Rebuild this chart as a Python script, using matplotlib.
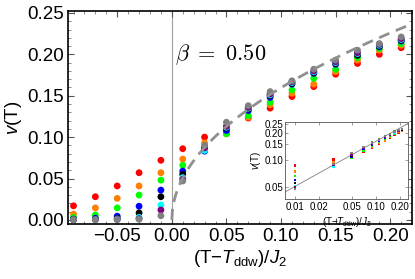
#!/usr/bin/env python3
import matplotlib
matplotlib.use("Agg")
import matplotlib.pyplot as plt
import numpy as np
from matplotlib.ticker import MultipleLocator, FixedLocator, NullLocator, NullFormatter

plt.rcParams["font.family"] = ["Liberation Sans", "DejaVu Sans"]
plt.rcParams["mathtext.fontset"] = "custom"
plt.rcParams["mathtext.rm"] = "Liberation Sans"
plt.rcParams["mathtext.it"] = "Liberation Sans:italic"

# temperatures relative to T_ddw
x_neg = [-0.09, -0.07, -0.05, -0.03, -0.01]
x_pos = [0.01, 0.03, 0.05, 0.07, 0.09, 0.11, 0.13, 0.15, 0.17, 0.19, 0.21]

colors = ["#ff0000", "#ff8000", "#00ff00", "#0000ff", "#000000", "#00ffff", "#800080", "#808080"]

red = [0.017, 0.028, 0.041, 0.057, 0.072,
       0.086, 0.100, 0.105, 0.123, 0.135, 0.149, 0.161, 0.176, 0.189, 0.200, 0.208]
orange = [0.007, 0.0145, 0.026, 0.041, 0.057,
          0.0735, 0.093, 0.104, 0.124, 0.139, 0.153, 0.164, 0.179, 0.193, 0.205, 0.211]
green = [0.003, 0.006, 0.0145, 0.030, 0.048,
         0.066, 0.088, 0.104, 0.126, 0.142, 0.157, 0.171, 0.182, 0.196, 0.207, 0.213]
blue = [0.001, 0.002, 0.0045, 0.0165, 0.036,
        0.059, 0.083, 0.108, 0.132, 0.148, 0.164, 0.177, 0.188, 0.199, 0.209, 0.216]
black = [0.0005, 0.001, 0.002, 0.0085, 0.028,
         0.055, 0.085, 0.111, 0.134, 0.150, 0.165, 0.178, 0.189, 0.199, 0.210, 0.217]
cyan = [0.0003, 0.0005, 0.001, 0.003, 0.018,
        0.051, 0.084, 0.112, 0.135, 0.151, 0.166, 0.179, 0.190, 0.201, 0.211, 0.218]
purple = [0.0002, 0.0003, 0.0005, 0.0015, 0.012,
          0.049, 0.087, 0.113, 0.136, 0.152, 0.167, 0.180, 0.191, 0.202, 0.212, 0.219]
gray = [0.0001, 0.0002, 0.0003, 0.0008, 0.005,
        0.047, 0.090, 0.118, 0.138, 0.155, 0.168, 0.182, 0.193, 0.205, 0.213, 0.221]

series = [red, orange, green, blue, black, cyan, purple, gray]

beta = 0.50
amp = 0.505

x_all = np.array(x_neg + x_pos)
n_neg = len(x_neg)

fig = plt.figure(figsize=(4.15, 2.79), dpi=100)
ax = fig.add_axes([0.164, 0.197, 0.829, 0.764])

ax.axvline(0, color="#a0a0a0", lw=0.8, zorder=1)
for c, vals in zip(colors, series):
    ax.scatter(x_all, vals, s=24, color=c, edgecolors="none", zorder=3)

xf = np.linspace(0, 0.23, 400)
ax.plot(xf, amp * xf ** beta, ls=(0, (4, 2.5)), color="#909090", lw=2, zorder=4)

ax.set_xlim(-0.095, 0.22)
ax.set_ylim(-0.005, 0.2525)
ax.xaxis.set_major_locator(FixedLocator([-0.05, 0.0, 0.05, 0.10, 0.15, 0.20]))
ax.xaxis.set_minor_locator(MultipleLocator(0.01))
ax.yaxis.set_major_locator(FixedLocator([0.0, 0.05, 0.10, 0.15, 0.20, 0.25]))
ax.yaxis.set_minor_locator(MultipleLocator(0.01))
ax.set_xticklabels(["\u22120.05", "0.00", "0.05", "0.10", "0.15", "0.20"])
ax.set_yticklabels(["0.00", "0.05", "0.10", "0.15", "0.20", "0.25"])
ax.tick_params(which="both", direction="in", top=True, right=True, labelsize=13.5, pad=3)
ax.tick_params(which="major", length=4, width=0.8, color="#555555")
ax.tick_params(which="minor", length=2, width=0.6, color="#777777")
for s in ax.spines.values():
    s.set_linewidth(1.2)

ax.set_xlabel(r"(T$-$$T_{\mathrm{ddw}}$)/$J_2$", fontsize=13.5, labelpad=2)
ax.set_ylabel(r"$v$(T)", fontsize=13.5, labelpad=2)

ax.text(0.003, 0.2, r"$\beta\ =\ 0.50$", fontsize=16, math_fontfamily="cm",
        va="center", ha="left", zorder=5)

# log-log inset
ins = fig.add_axes([0.687, 0.285, 0.296, 0.278])
for c, vals in zip(colors, series):
    ins.scatter(x_pos, vals[n_neg:], s=3, marker="s", color=c, edgecolors="none", zorder=3)
xl = np.linspace(0.0075, 0.25, 200)
ins.plot(xl, amp * xl ** beta, color="#909090", lw=0.7, zorder=2)
ins.set_xscale("log")
ins.set_yscale("log")
ins.set_xlim(0.0075, 0.25)
ins.set_ylim(0.036, 0.263)
ins.xaxis.set_major_locator(FixedLocator([0.01, 0.02, 0.05, 0.10, 0.20]))
ins.xaxis.set_minor_locator(NullLocator())
ins.xaxis.set_minor_formatter(NullFormatter())
ins.set_xticklabels(["0.01", "0.02", "0.05", "0.10", "0.20"])
ins.yaxis.set_major_locator(FixedLocator([0.05, 0.10, 0.15, 0.20, 0.25]))
ins.yaxis.set_minor_locator(NullLocator())
ins.yaxis.set_minor_formatter(NullFormatter())
ins.set_yticklabels(["0.05", "0.10", "0.15", "0.20", "0.25"])
ins.tick_params(which="both", direction="in", labelsize=7, pad=1.5, length=2,
                width=0.5, color="#777777", top=True, right=True)
for s in ins.spines.values():
    s.set_linewidth(0.6)
    s.set_color("#555555")
ins.set_xlabel(r"(T$-$$T_{\mathrm{ddw}}$)/$J_2$", fontsize=7, labelpad=2.5)
ins.set_ylabel(r"$v$(T)", fontsize=7, labelpad=1)

fig.savefig("out.png", dpi=100)
